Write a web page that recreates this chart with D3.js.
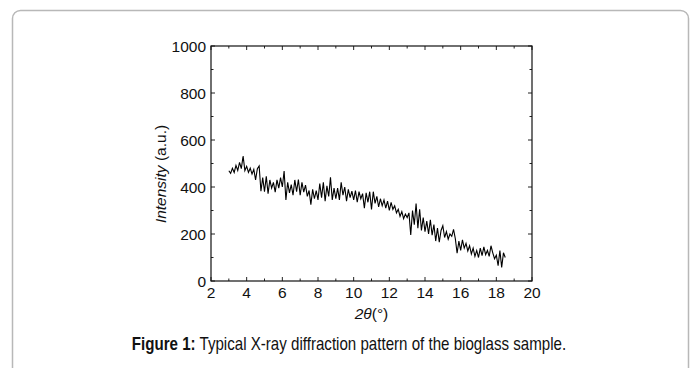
<!DOCTYPE html>
<html><head><meta charset="utf-8">
<script src="https://cdn.jsdelivr.net/npm/d3@7/dist/d3.min.js"></script>
<style>body{margin:0;background:#fff}svg{display:block}text{font-family:"Liberation Sans",Arial,sans-serif;fill:#111}</style>
</head><body><svg id="c" width="695" height="368"></svg>
<script>
// 2θ scan: start and instrument step (degrees)
const scanStart = 3.0;
const scanStep = 0.1;
// Intensity (a.u.), one value per step from 3.0 to 18.5
const intensity = [
469,458,480,462,492,470,505,478,532,470,
488,462,480,455,475,430,478,490,382,440,
380,445,372,430,395,420,378,430,395,440,
400,468,345,420,375,410,365,430,380,432,
365,420,378,408,360,385,325,390,350,385,
345,415,355,420,340,405,360,441,345,395,
350,395,345,420,365,400,340,390,355,382,
345,385,335,380,350,372,310,375,335,380,
305,380,330,360,315,350,320,345,310,340,
300,335,305,320,290,305,275,295,265,285,
270,290,196,300,240,330,225,305,215,270,
210,255,200,260,195,240,170,225,165,215,
235,185,210,178,200,190,220,180,118,170,
130,175,140,160,128,150,115,140,105,130,
100,140,108,145,112,130,105,150,120,95,
110,65,130,58,120,
100];
const xTicks = [2,4,6,8,10,12,14,16,18,20];
const yTicks = [0,200,400,600,800,1000];
const xMinor = [3,5,7,9,11,13,15,17,19];
const yMinor = [100,300,500,700,900];
const caption = "Typical X-ray diffraction pattern of the bioglass sample.";

const svg = d3.select("#c");
// outer frame
svg.append("rect").attr("x",12.5).attr("y",10.5).attr("width",676).attr("height",380)
  .attr("rx",8).attr("fill","#fff").attr("stroke","#b8b8b8").attr("stroke-width",1.5);

const L=211, R=532, T=46, B=281;
const x = d3.scaleLinear().domain([2,20]).range([L,R]);
const y = d3.scaleLinear().domain([0,1000]).range([B,T]);

const data = intensity.map((v,i)=>({t: scanStart + i*scanStep, v}));

const g = svg.append("g");
// ticks (inward on all four sides)
const tick = (arr, len) => {
  arr.forEach(d=>{
    g.append("line").attr("x1",x(d)).attr("x2",x(d)).attr("y1",B).attr("y2",B-len).attr("stroke","#222");
    g.append("line").attr("x1",x(d)).attr("x2",x(d)).attr("y1",T).attr("y2",T+len).attr("stroke","#222");
  });
};
const ytick = (arr, len) => {
  arr.forEach(d=>{
    g.append("line").attr("y1",y(d)).attr("y2",y(d)).attr("x1",L).attr("x2",L+len).attr("stroke","#222");
    g.append("line").attr("y1",y(d)).attr("y2",y(d)).attr("x1",R).attr("x2",R-len).attr("stroke","#222");
  });
};
tick(xTicks,4); tick(xMinor,2.5); ytick(yTicks,4); ytick(yMinor,2.5);

g.append("rect").attr("x",L).attr("y",T).attr("width",R-L).attr("height",B-T)
  .attr("fill","none").attr("stroke","#111").attr("stroke-width",1.2);

// tick labels
g.selectAll(".xl").data(xTicks).enter().append("text")
  .attr("x",d=>x(d)).attr("y",298).attr("text-anchor","middle").attr("font-size",15.5).text(d=>d);
g.selectAll(".yl").data(yTicks).enter().append("text")
  .attr("x",206).attr("y",d=>y(d)+5.5).attr("text-anchor","end").attr("font-size",15.5).text(d=>d);

// data line
g.append("path").datum(data)
  .attr("d", d3.line().x(d=>x(d.t)).y(d=>y(d.v)))
  .attr("fill","none").attr("stroke","#000").attr("stroke-width",1.1).attr("stroke-linejoin","miter");

// axis titles
const xt = g.append("text").attr("x",(L+R)/2).attr("y",319).attr("text-anchor","middle").attr("font-size",15.5);
xt.append("tspan").attr("font-style","italic").text("2θ");
xt.append("tspan").text("(°)");
const yt = g.append("text").attr("transform","translate(166,174) rotate(-90)").attr("text-anchor","middle").attr("font-size",15.5);
yt.append("tspan").attr("font-style","italic").text("Intensity");
yt.append("tspan").text(" (a.u.)");

// caption
const cap = svg.append("text").attr("transform","translate(349,350) scale(0.84,1)")
  .attr("text-anchor","middle").attr("font-size",18);
cap.append("tspan").attr("font-weight","bold").text("Figure 1:");
cap.append("tspan").text(" " + caption);
</script></body></html>
